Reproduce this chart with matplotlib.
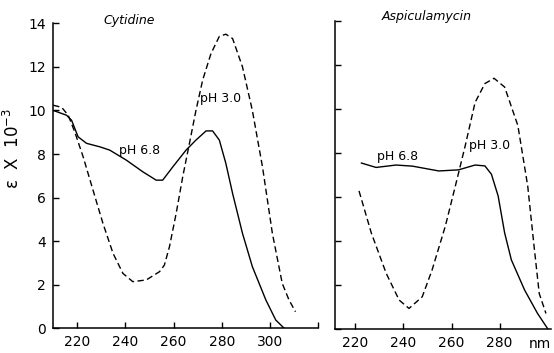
#!/usr/bin/env python3
import numpy as np
import matplotlib
matplotlib.use("Agg")
import matplotlib.pyplot as plt

# Cytidine, pH 3.0 (dashed)
cyt_acid_nm = [210.1, 213.6, 216.3, 219.0, 222.5, 226.6, 230.7, 234.9, 239.0, 243.1,
               248.7, 254.2, 256.2, 258.3, 261.1, 263.8, 266.6, 269.3, 272.1, 275.5,
               279.0, 281.7, 284.5, 288.6, 292.7, 296.9, 301.0, 305.1, 307.9, 310.6]
cyt_acid_eps = [10.24, 10.14, 9.78, 9.02, 7.87, 6.34, 4.82, 3.44, 2.52, 2.14,
                2.22, 2.60, 2.90, 3.74, 5.28, 6.95, 8.49, 10.0, 11.4, 12.6,
                13.4, 13.5, 13.3, 12.0, 10.0, 7.41, 4.36, 2.06, 1.30, 0.76]

# Cytidine, pH 6.8 (solid)
cyt_neut_nm = [210.1, 215.6, 217.7, 220.4, 223.9, 229.4, 233.5, 240.4, 247.3, 252.8,
               255.5, 259.7, 265.2, 269.3, 273.5, 276.2, 279.0, 281.7, 284.5, 288.6,
               292.7, 298.3, 302.4, 305.9]
cyt_neut_eps = [10.0, 9.78, 9.55, 8.79, 8.49, 8.33, 8.18, 7.72, 7.18, 6.80,
                6.80, 7.41, 8.18, 8.64, 9.06, 9.06, 8.64, 7.57, 6.19, 4.36,
                2.83, 1.30, 0.38, 0.0]

# Aspiculamycin, pH 3.0 (dashed)
asp_acid_nm = [221.5, 226.6, 232.8, 238.2, 242.3, 247.8, 251.9, 257.4, 261.6, 265.7,
               269.8, 273.9, 277.7, 282.1, 287.6, 291.7, 294.5, 296.5, 299.3]
asp_acid_eps = [6.27, 4.36, 2.52, 1.30, 0.92, 1.45, 2.67, 4.66, 6.50, 8.33,
                10.3, 11.16, 11.4, 11.0, 9.25, 6.50, 3.60, 1.60, 0.69]

# Aspiculamycin, pH 6.8 (solid)
asp_neut_nm = [222.5, 228.6, 236.9, 243.7, 254.7, 262.9, 269.8, 273.9, 276.6, 279.4,
               282.1, 284.9, 290.4, 295.8, 300.0]
asp_neut_eps = [7.54, 7.34, 7.45, 7.40, 7.18, 7.23, 7.45, 7.41, 7.03, 6.04,
                4.36, 3.13, 1.76, 0.69, 0.0]

y_ticks = [0, 2, 4, 6, 8, 10, 12, 14]

plt.rcParams['font.family'] = ['DejaVu Sans']
fs = 10

fig = plt.figure(figsize=(5.54, 3.53), dpi=100)
ax1 = fig.add_axes([0.0957, 0.070, 0.4786, 0.864])
ax2 = fig.add_axes([0.6047, 0.069, 0.3899, 0.871])

dash = (0, (4.5, 2.5))
for ax in (ax1, ax2):
    for s in ('top', 'right'):
        ax.spines[s].set_visible(False)
    for s in ('left', 'bottom'):
        ax.spines[s].set_linewidth(1.1)
    ax.set_ylim(0, 14)
    ax.set_yticks(y_ticks)
    ax.tick_params(direction='in', length=4, width=1, labelsize=fs, pad=5)

# left panel
ax1.plot(cyt_acid_nm, cyt_acid_eps, color='black', lw=1.0, linestyle=dash)
ax1.plot(cyt_neut_nm, cyt_neut_eps, color='black', lw=1.0)
ax1.set_xlim(210, 320)
ax1.set_xticks([220, 240, 260, 280, 300, 320])
ax1.set_xticklabels(['220', '240', '260', '280', '300', ''])
ax1.set_ylabel('ε  X  10$^{-3}$', fontsize=fs + 2)
ax1.yaxis.set_label_coords(-0.113, 0.59)
ax1.text(241.8, 14.13, 'Cytidine', style='italic', fontsize=fs - 1,
         ha='center', va='center', clip_on=False)
ax1.text(245.9, 8.18, 'pH 6.8', fontsize=fs - 1, ha='center', va='center')
ax1.text(279.7, 10.56, 'pH 3.0', fontsize=fs - 1, ha='center', va='center')

# right panel
ax2.plot(asp_acid_nm, asp_acid_eps, color='black', lw=1.0, linestyle=dash)
ax2.plot(asp_neut_nm, asp_neut_eps, color='black', lw=1.0)
ax2.set_xlim(211.5, 301.4)
ax2.set_xticks([220, 240, 260, 280])
ax2.set_yticklabels([])
ax2.text(249.8, 14.2, 'Aspiculamycin', style='italic', fontsize=fs - 1,
         ha='center', va='center', clip_on=False)
ax2.text(237.6, 7.86, 'pH 6.8', fontsize=fs - 1, ha='center', va='center')
ax2.text(275.9, 8.32, 'pH 3.0', fontsize=fs - 1, ha='center', va='center')
ax2.text(296.6, -0.68, 'nm', fontsize=fs, ha='center', va='center', clip_on=False)

fig.savefig('out.png', dpi=100)
